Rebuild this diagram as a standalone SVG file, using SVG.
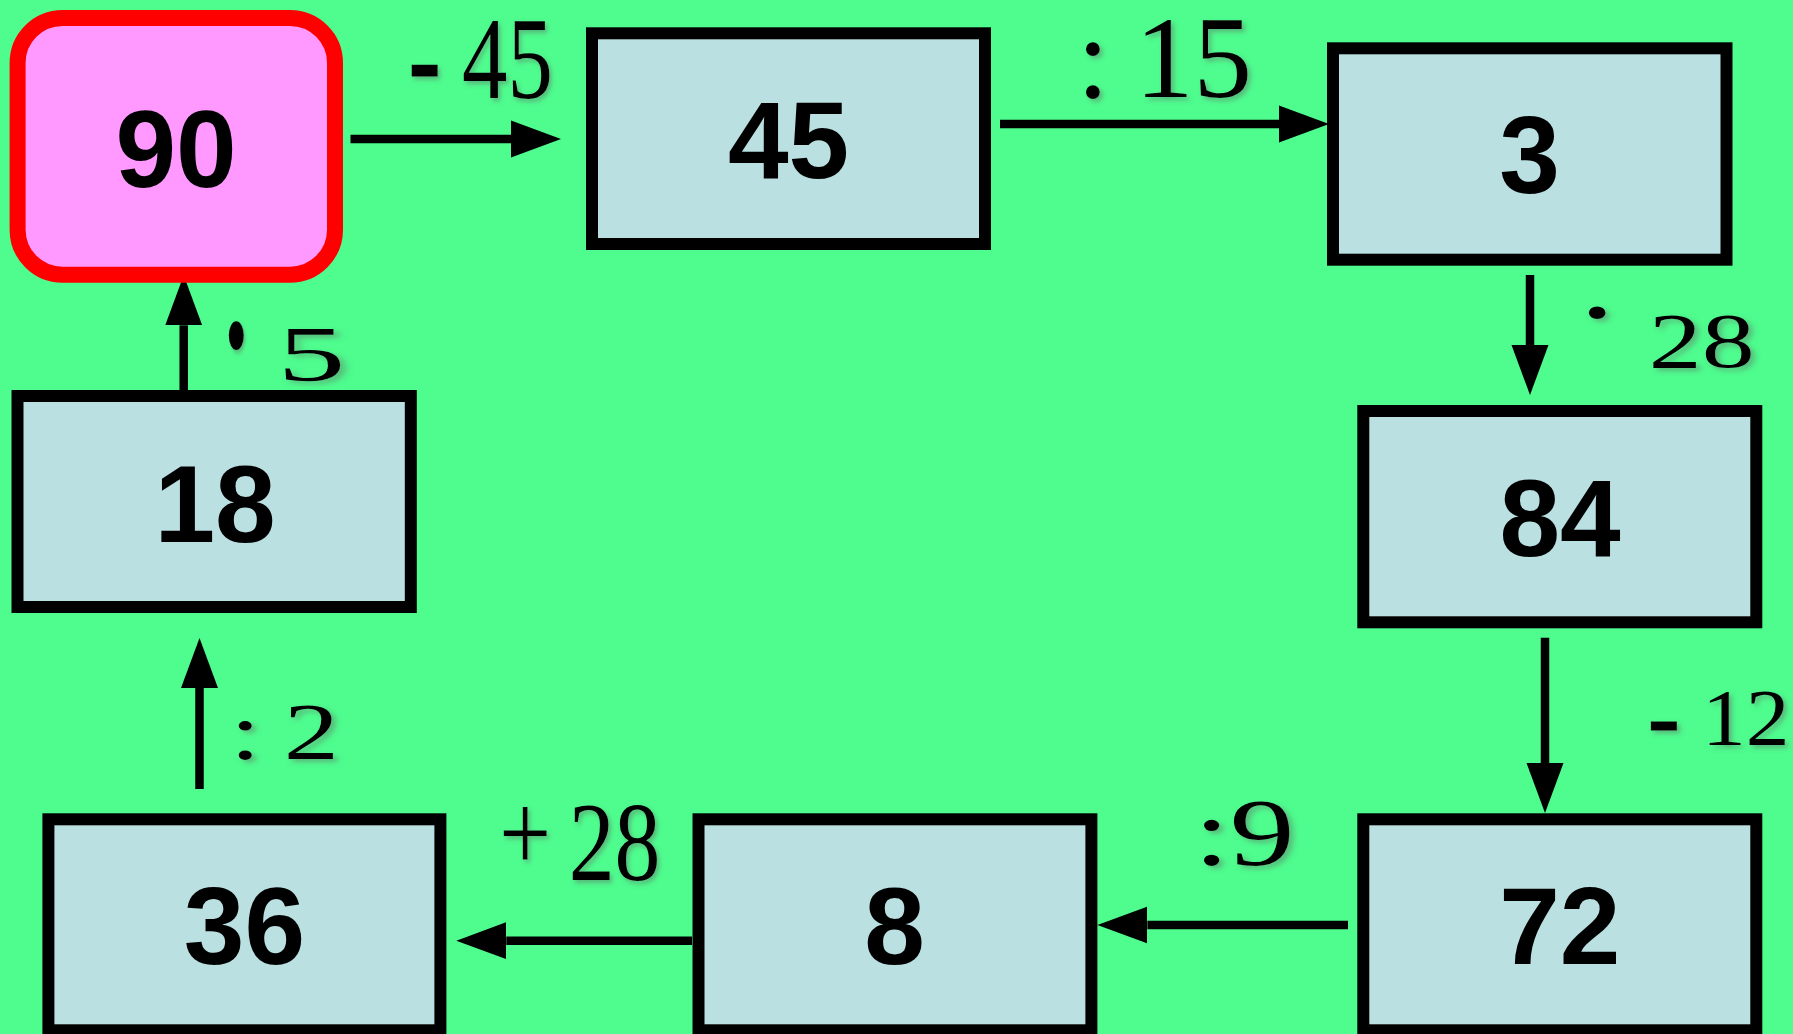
<svg xmlns="http://www.w3.org/2000/svg" width="1793" height="1034" viewBox="0 0 1793 1034">
<style>
.box{fill:#BAE0E2;stroke:#000;stroke-width:12}
.num{font-family:"Liberation Sans",Arial,sans-serif;font-weight:bold;font-size:109px;text-anchor:middle;fill:#000}
.lbl{font-family:"Liberation Serif","Times New Roman",serif;fill:#000;filter:url(#sh)}
.hy{stroke:#000;stroke-width:3}
.conn{fill:none;stroke:#000;stroke-width:8.5;marker-end:url(#ah)}
</style>
<defs>
<marker id="ah" markerUnits="userSpaceOnUse" markerWidth="52" markerHeight="40" viewBox="0 -20 52 40" refX="0" refY="0" orient="auto">
<path d="M0,-18.5 L50,0 L0,18.5 Z" fill="#000"/>
</marker>
<filter id="sh" x="-30%" y="-30%" width="160%" height="160%">
<feDropShadow dx="3" dy="3" stdDeviation="2.5" flood-color="#606060" flood-opacity="0.45"/>
</filter>
</defs>
<rect x="0" y="0" width="1793" height="1034" fill="#4EFD8E"/>

<g id="connectors">
<path class="conn" d="M350.5,139 H511"/>
<path class="conn" d="M1000,124 H1279"/>
<path class="conn" d="M1530,275 V345"/>
<path class="conn" d="M1545,637.7 V763"/>
<path class="conn" d="M1348,925 H1147.4"/>
<path class="conn" d="M692,940.7 H506.3"/>
<path class="conn" d="M199.5,789 V688"/>
<path class="conn" d="M183.7,390 V325.3"/>
</g>

<g id="n90">
<rect x="17.6" y="18" width="317.4" height="256.7" rx="45" ry="45" fill="#FF99FF" stroke="#FF0000" stroke-width="16"/>
<text class="num" x="176" y="186.7">90</text>
</g>
<g id="n45">
<rect class="box" x="592" y="33.3" width="393" height="210.7"/>
<text class="num" x="788.5" y="178.3">45</text>
</g>
<g id="n3">
<rect class="box" x="1333" y="48.3" width="393.5" height="211.4"/>
<text class="num" x="1529.5" y="193.3">3</text>
</g>
<g id="n84">
<rect class="box" x="1363.3" y="411" width="393" height="211.3"/>
<text class="num" x="1560" y="556">84</text>
</g>
<g id="n72">
<rect class="box" x="1363.3" y="819.3" width="393" height="211"/>
<text class="num" x="1559.8" y="964">72</text>
</g>
<g id="n8">
<rect class="box" x="698.5" y="819.3" width="392.9" height="211"/>
<text class="num" x="894.5" y="964">8</text>
</g>
<g id="n36">
<rect class="box" x="48.4" y="819.3" width="392" height="211"/>
<text class="num" x="244.4" y="964">36</text>
</g>
<g id="n18">
<rect class="box" x="17.5" y="396" width="393.3" height="211"/>
<text class="num" x="215" y="542">18</text>
</g>

<g id="labels">
<text class="lbl" font-size="117" transform="translate(462,0) scale(0.776,1)"><tspan class="hy" x="-67.7" y="98.3">-</tspan> <tspan x="0" y="98.3">45</tspan></text>
<text class="lbl" font-size="117"><tspan x="1076.7" y="97.3">:</tspan> <tspan x="1135" y="97.3">15</tspan></text>
<text class="lbl" font-size="79" transform="translate(1652,0) scale(1.34,1)"><tspan font-size="105" x="-58.4" y="348">·</tspan> <tspan x="-2.4" y="366.7">28</tspan></text>
<text class="lbl" font-size="81" transform="translate(1711.7,0) scale(1.08,1)"><tspan class="hy" x="-57.8" y="745">-</tspan> <tspan x="-9" y="745">12</tspan></text>
<text class="lbl" font-size="96" transform="translate(1233.6,0) scale(1.35,1)"><tspan x="-29.6" y="865">:9</tspan></text>
<text class="lbl" font-size="112" transform="translate(571.4,0) scale(0.82,1)"><tspan x="-88" y="871">+</tspan> <tspan x="-3.4" y="880">28</tspan></text>
<text class="lbl" font-size="80" transform="translate(287,0) scale(1.38,1)"><tspan x="-41.3" y="759">:</tspan> <tspan x="-2.4" y="759">2</tspan></text>
<text class="lbl" font-size="243" transform="translate(236,0) scale(0.52,1)"><tspan x="-40.1" y="415.7">·</tspan></text>
<text class="lbl" font-size="79" transform="translate(281.7,0) scale(1.72,1)"><tspan x="-2.5" y="380">5</tspan></text>
</g>
</svg>
